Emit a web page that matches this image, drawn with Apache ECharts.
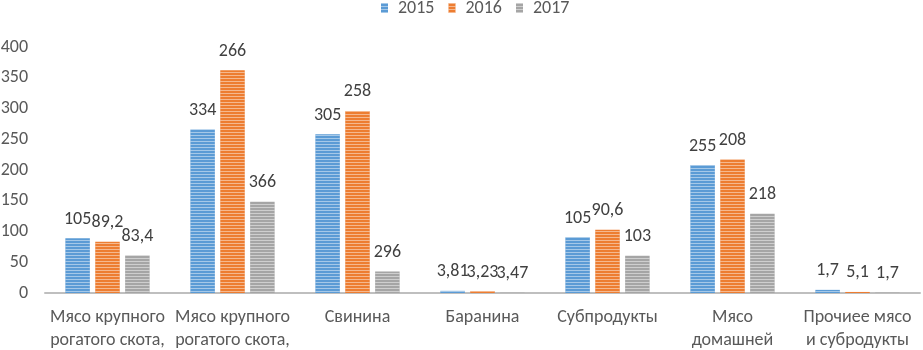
<!DOCTYPE html>
<html><head><meta charset="utf-8">
<script src="https://cdn.jsdelivr.net/npm/echarts@6/dist/echarts.min.js"></script>
<style>html,body{margin:0;padding:0;background:#fff}#c{width:923px;height:350px}</style>
</head><body><div id="c"></div>
<script>
const categories = ["Мясо крупного\nрогатого скота,", "Мясо крупного\nрогатого скота,", "Свинина", "Баранина", "Субпродукты", "Мясо\nдомашней", "Прочиее мясо\nи субродукты"];
const years = ["2015", "2016", "2017"];
const values2015 = [89.2, 266, 258, 3.5, 90.8, 208, 5.1];
const values2016 = [83.4, 362, 296, 3.2, 102.7, 217, 1.7];
const values2017 = [61, 148.5, 35, 0.4, 60.5, 129, 0.6];
const labels2015 = ["105", "334", "305", "3,81", "105", "255", "1,7"];
const labels2016 = ["89,2", "266", "258", "3,23", "90,6", "208", "5,1"];
const labels2017 = ["83,4", "366", "296", "3,47", "103", "218", "1,7"];
const yTicks = [0, 50, 100, 150, 200, 250, 300, 350, 400];
const colors = ["#5b9bd5", "#ed7d31", "#a5a5a5"];

const font = "Calibri, Carlito, 'Open Sans', sans-serif";
const seriesData = [values2015, values2016, values2017];
const seriesLabels = [labels2015, labels2016, labels2017];

const chart = echarts.init(document.getElementById('c'), null, {renderer: 'canvas'});
chart.setOption({
  animation: false,
  color: colors,
  legend: {
    top: -6, left: 376,
    icon: 'path://M0,0h7v10h-7zM12,0',
    itemWidth: 12, itemHeight: 10, itemGap: 14,
    textStyle: {fontFamily: font, fontSize: 18, color: '#595959'},
    data: years
  },
  grid: {left: 45, right: 3, top: 47, bottom: 57, containLabel: false, outerBoundsMode: 'none'},
  xAxis: {
    type: 'category', data: categories,
    axisLine: {lineStyle: {color: '#bfbfbf', width: 2}},
    axisTick: {show: false},
    axisLabel: {fontFamily: font, fontSize: 18, color: '#595959', margin: 13, lineHeight: 23, interval: 0}
  },
  yAxis: {
    type: 'value', min: yTicks[0], max: yTicks[yTicks.length - 1], interval: 50,
    splitLine: {show: false},
    axisLine: {show: false}, axisTick: {show: false},
    axisLabel: {fontFamily: font, fontSize: 18, color: '#595959', margin: 17}
  },
  series: years.map((y, i) => ({
    name: y, type: 'bar',
    data: seriesData[i],
    barWidth: 24.5, barGap: '22%',
    itemStyle: {
      color: colors[i],
      decal: {symbol: 'rect', symbolSize: 1, dashArrayX: [1, 0], dashArrayY: [1, 2], color: 'rgba(255,255,255,0.45)', rotation: 0}
    },
    label: {
      show: true, position: 'top', distance: 10,
      fontFamily: font, fontSize: 18, color: '#404040',
      formatter: p => seriesLabels[i][p.dataIndex]
    }
  }))
});
</script></body></html>
